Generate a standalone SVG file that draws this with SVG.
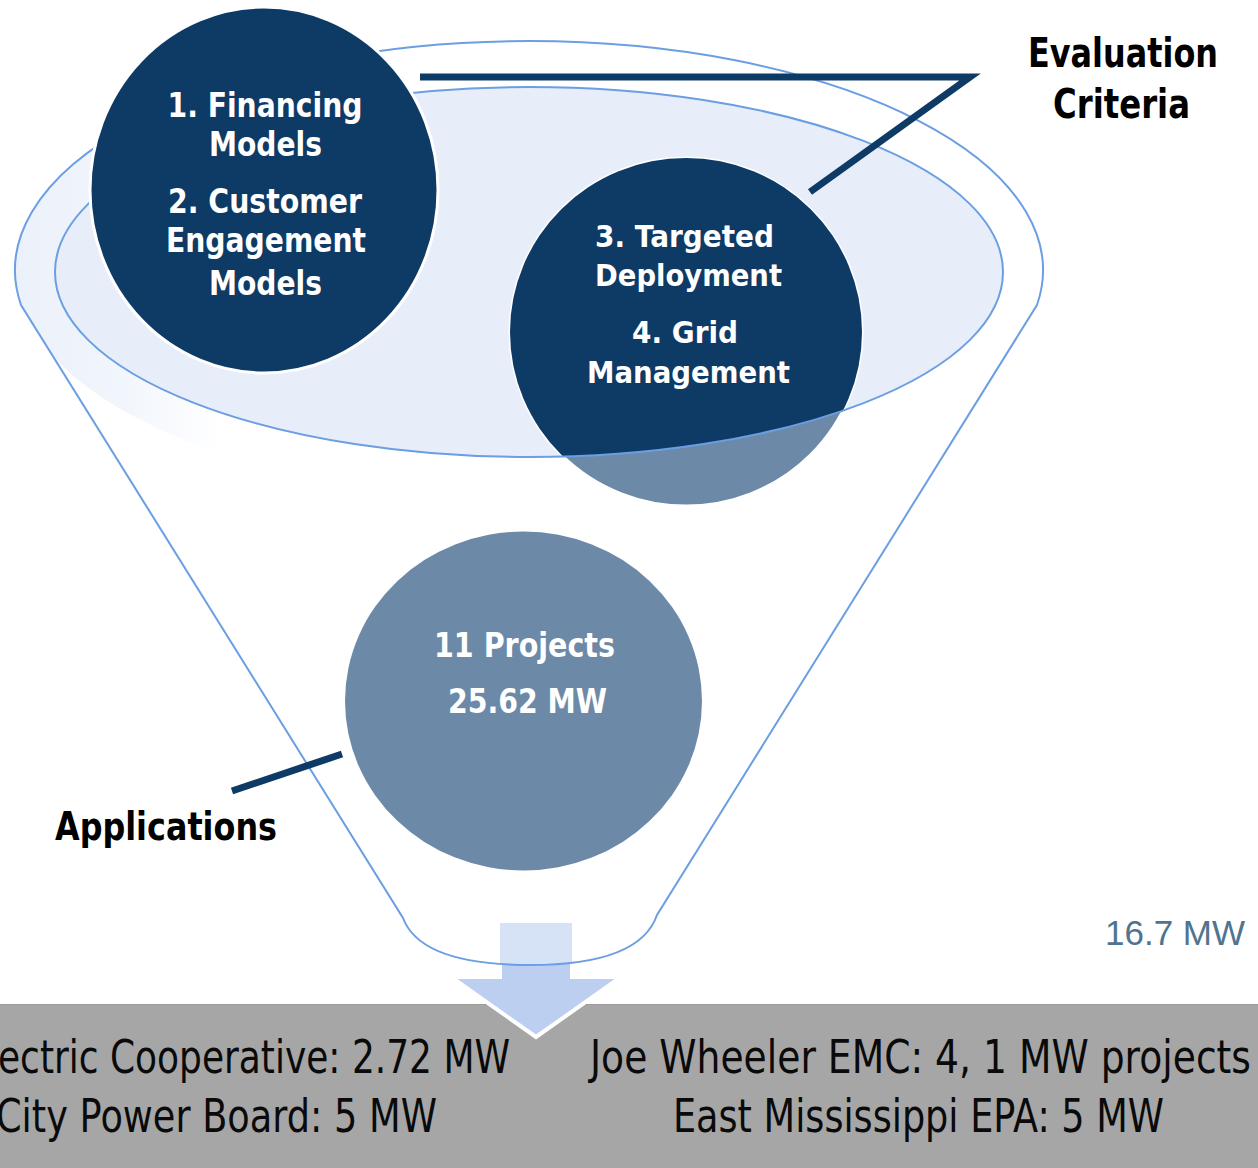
<svg xmlns="http://www.w3.org/2000/svg" width="1258" height="1168" viewBox="0 0 1258 1168">
  <style>
    .fl { fill: none; stroke: #6b9ee2; stroke-width: 2; }
    .conn { fill: none; stroke: #0e3a66; stroke-width: 7; stroke-linejoin: miter; stroke-linecap: butt; }
    .wt { font-family: "DejaVu Sans", Verdana, sans-serif; font-weight: bold; fill: #ffffff; text-anchor: middle; }
    .bk { font-family: "DejaVu Sans", Verdana, sans-serif; font-weight: bold; fill: #000000; }
    .bt { font-family: "DejaVu Sans", Verdana, sans-serif; font-size: 46px; fill: #0a0a0a; }
  </style>
  <defs>
    <clipPath id="funnelClip">
      <path d="M 21 305 A 514 229 0 1 1 1037 305 L 657 915 C 645 950 600 965 530 965 C 460 965 415 950 403 918 Z"/>
    </clipPath>
    <clipPath id="innerClip">
      <ellipse cx="529" cy="272" rx="474" ry="185"/>
    </clipPath>
    <linearGradient id="ringGrad" x1="0" y1="0" x2="1" y2="0">
      <stop offset="0" stop-color="#ebf1fa"/>
      <stop offset="0.1" stop-color="#f1f5fc"/>
      <stop offset="0.2" stop-color="#ffffff"/>
      <stop offset="1" stop-color="#ffffff"/>
    </linearGradient>
  </defs>

  <rect width="1258" height="1168" fill="#ffffff"/>

  <g id="bottom-bar">
    <rect x="0" y="1004" width="1258" height="164" fill="#a6a6a6"/>
    <line x1="0" y1="1004.5" x2="1258" y2="1004.5" stroke="#9b9b9b" stroke-width="1"/>
    <text class="bt" x="-2" y="1073" textLength="512" lengthAdjust="spacingAndGlyphs">ectric Cooperative: 2.72 MW</text>
    <text class="bt" x="-4" y="1132" textLength="441" lengthAdjust="spacingAndGlyphs">City Power Board: 5 MW</text>
    <text class="bt" x="590" y="1073" textLength="661" lengthAdjust="spacingAndGlyphs">Joe Wheeler EMC: 4, 1 MW projects</text>
    <text class="bt" x="673" y="1132" textLength="491" lengthAdjust="spacingAndGlyphs">East Mississippi EPA: 5 MW</text>
  </g>

  <g id="funnel">
    <path d="M 21 305 A 514 229 0 1 1 1037 305 L 657 915 C 645 950 600 965 530 965 C 460 965 415 950 403 918 Z" fill="#ffffff"/>
    <ellipse cx="529" cy="270" rx="514" ry="229" fill="url(#ringGrad)" clip-path="url(#funnelClip)"/>
    <ellipse id="inner-ellipse-fill" cx="529" cy="272" rx="474" ry="185" fill="#e7eef9"/>
  </g>

  <g id="arrow">
    <path d="M 500 923 L 572 923 L 572 977 L 621 977 L 536 1037 L 451 977 L 500 977 Z" fill="#bccff0" stroke="#ffffff" stroke-width="4"/>
    <rect x="500" y="923" width="72" height="50" fill="#d6e3f6" clip-path="url(#funnelClip)"/>
  </g>

  <g id="funnel-outline">
    <path class="fl" d="M 21 305 A 514 229 0 1 1 1037 305 L 657 915 C 645 950 600 965 530 965 C 460 965 415 950 403 918 Z"/>
  </g>

  <g id="node-3-4">
    <ellipse cx="686" cy="332" rx="176" ry="174" fill="#6c8aa8" stroke="#ffffff" stroke-width="3"/>
    <ellipse cx="686" cy="332" rx="176" ry="174" fill="#0e3a66" clip-path="url(#innerClip)"/>
    <text class="wt" font-size="31" x="684.5" y="247" textLength="179" lengthAdjust="spacingAndGlyphs">3. Targeted</text>
    <text class="wt" font-size="31" x="688.5" y="286" textLength="187" lengthAdjust="spacingAndGlyphs">Deployment</text>
    <text class="wt" font-size="31" x="685" y="343" textLength="106" lengthAdjust="spacingAndGlyphs">4. Grid</text>
    <text class="wt" font-size="31" x="688.5" y="383" textLength="203" lengthAdjust="spacingAndGlyphs">Management</text>
  </g>

  <g id="inner-ellipse-outline">
    <ellipse class="fl" cx="529" cy="272" rx="474" ry="185"/>
  </g>

  <g id="node-11-projects">
    <ellipse cx="523.5" cy="701" rx="178.5" ry="169.5" fill="#6c8aa8"/>
    <text class="wt" font-size="34" x="524.5" y="657" textLength="181" lengthAdjust="spacingAndGlyphs">11 Projects</text>
    <text class="wt" font-size="34" x="527.5" y="713" textLength="159" lengthAdjust="spacingAndGlyphs">25.62 MW</text>
  </g>

  <g id="node-1-2">
    <ellipse cx="264" cy="190" rx="174" ry="183" fill="#0e3a66" stroke="#ffffff" stroke-width="3"/>
    <text class="wt" font-size="34" x="265" y="117" textLength="195" lengthAdjust="spacingAndGlyphs">1. Financing</text>
    <text class="wt" font-size="34" x="265.5" y="156" textLength="113" lengthAdjust="spacingAndGlyphs">Models</text>
    <text class="wt" font-size="34" x="265" y="213" textLength="194" lengthAdjust="spacingAndGlyphs">2. Customer</text>
    <text class="wt" font-size="34" x="266" y="252" textLength="200" lengthAdjust="spacingAndGlyphs">Engagement</text>
    <text class="wt" font-size="34" x="265.5" y="295" textLength="113" lengthAdjust="spacingAndGlyphs">Models</text>
  </g>

  <g id="connectors">
    <path class="conn" d="M 420 77 L 970 77 L 810 192"/>
    <path class="conn" d="M 232 791 L 342 754"/>
  </g>

  <g id="label-evaluation-criteria">
    <text class="bk" font-size="40" x="1123" y="67" text-anchor="middle" textLength="190" lengthAdjust="spacingAndGlyphs">Evaluation</text>
    <text class="bk" font-size="40" x="1121.5" y="118" text-anchor="middle" textLength="137" lengthAdjust="spacingAndGlyphs">Criteria</text>
  </g>

  <g id="label-applications">
    <text class="bk" font-size="38.5" x="55" y="840" textLength="222" lengthAdjust="spacingAndGlyphs">Applications</text>
  </g>

  <g id="label-16-7">
    <text x="1105" y="945" font-family="'Liberation Sans', Arial, sans-serif" font-size="35" fill="#50748f">16.7 MW</text>
  </g>
</svg>
